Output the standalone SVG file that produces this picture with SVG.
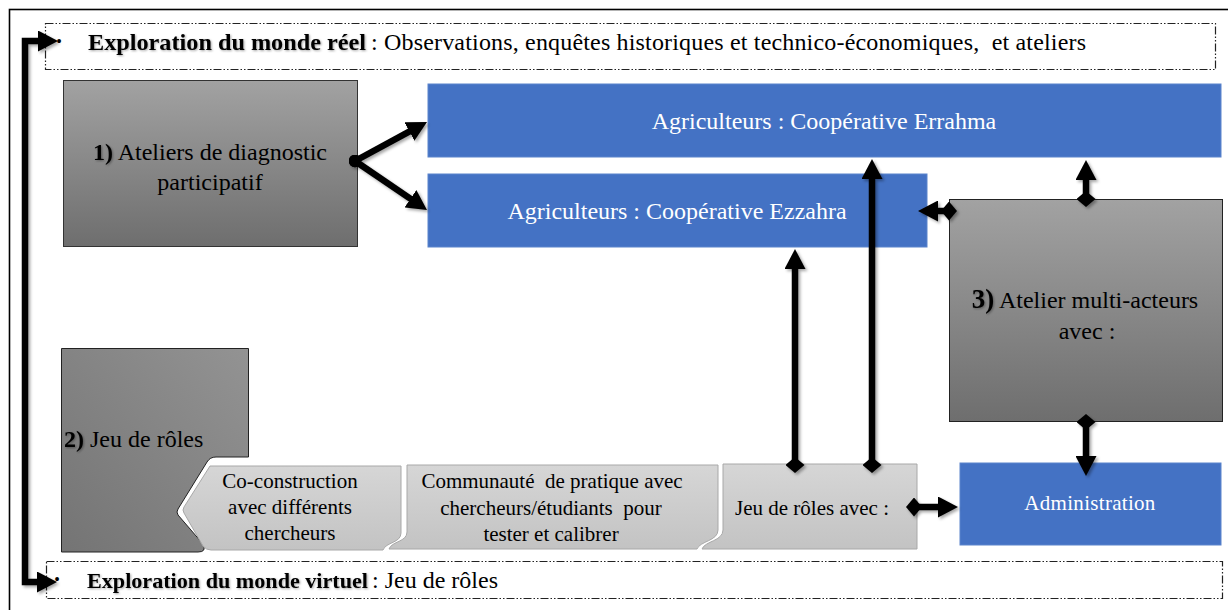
<svg xmlns="http://www.w3.org/2000/svg" width="1228" height="610" viewBox="0 0 1228 610">
<style>
.t{font-family:"Liberation Serif","Times New Roman",serif;fill:#000}
.b{font-weight:bold}
.w{fill:#fff}
.blue{fill:#4472C4;stroke:#5b84cc;stroke-width:1}
.dash{fill:#fff;stroke:#222;stroke-width:1.2;stroke-dasharray:8 2 1.5 2 1.5 2}
.lt{stroke:#a8a8a8;stroke-width:1}
.con{fill:none;stroke:#000;stroke-width:6.5}
</style>
<defs>
<linearGradient id="gDark" x1="0" y1="0" x2="0" y2="1"><stop offset="0" stop-color="#a2a2a2"/><stop offset="1" stop-color="#6e6e6e"/></linearGradient>
<linearGradient id="gMid" x1="0" y1="1" x2="1" y2="0"><stop offset="0" stop-color="#747474"/><stop offset="1" stop-color="#939393"/></linearGradient>
<linearGradient id="gLight" x1="0" y1="0" x2="0" y2="1"><stop offset="0" stop-color="#d6d6d6"/><stop offset="1" stop-color="#c3c3c3"/></linearGradient>
<filter id="sh" x="-10%" y="-10%" width="130%" height="130%"><feDropShadow dx="2" dy="2" stdDeviation="1.5" flood-color="#000" flood-opacity="0.35"/></filter>
<filter id="tsh" x="-5%" y="-20%" width="110%" height="150%"><feDropShadow dx="1" dy="1" stdDeviation="1" flood-color="#000" flood-opacity="0.35"/></filter>
<marker id="ah" viewBox="0 0 20 21" refX="6" refY="10.5" markerWidth="20" markerHeight="21" markerUnits="userSpaceOnUse" orient="auto-start-reverse"><path d="M0,0 L20,10.5 L0,21 Z" fill="#000"/></marker>
<marker id="dm" viewBox="0 0 16 19" refX="8" refY="9.5" markerWidth="16" markerHeight="19" markerUnits="userSpaceOnUse" orient="auto"><path d="M0,9.5 L8,0 L16,9.5 L8,19 Z" fill="#000"/></marker>
<marker id="dot" viewBox="0 0 13 13" refX="6.5" refY="6.5" markerWidth="13" markerHeight="13" markerUnits="userSpaceOnUse"><circle cx="6.5" cy="6.5" r="6.2" fill="#000"/></marker>
</defs>
<rect width="1228" height="610" fill="#fff"/>
<g id="frame"><rect x="9.5" y="9.5" width="1240" height="640" fill="none" stroke="#000" stroke-width="1.6"/></g>

<g id="real-world">
<rect class="dash" x="45.5" y="23.5" width="1170" height="46"/>
<text class="t" x="59" y="47" font-size="16" text-anchor="middle">•</text>
<text class="t b" x="88" y="50" font-size="24" textLength="278" lengthAdjust="spacingAndGlyphs" filter="url(#tsh)">Exploration du monde réel</text>
<text class="t" x="371" y="50" font-size="24" textLength="715" style="white-space:pre">: Observations, enquêtes historiques et technico-économiques,  et ateliers</text>
</g>

<g id="virtual-world">
<rect class="dash" x="46.5" y="561.5" width="1176" height="37"/>
<text class="t" x="57" y="585" font-size="16" text-anchor="middle">•</text>
<text class="t b" x="87" y="588" font-size="22" textLength="281" lengthAdjust="spacingAndGlyphs" filter="url(#tsh)">Exploration du monde virtuel</text>
<text class="t" x="372" y="588" font-size="24" style="white-space:pre">: Jeu de rôles</text>
</g>

<g id="node-1">
<rect x="63.5" y="80.5" width="294" height="166" fill="url(#gDark)" stroke="#333" stroke-width="1"/>
<text class="t" x="210" y="160" font-size="24" text-anchor="middle"><tspan class="b" filter="url(#tsh)">1)</tspan> Ateliers de diagnostic</text>
<text class="t" x="210" y="190" font-size="24" text-anchor="middle">participatif</text>
</g>

<g id="node-errahma">
<rect class="blue" x="428" y="84" width="793" height="73"/>
<text class="t w" x="824" y="129" font-size="24" text-anchor="middle">Agriculteurs : Coopérative Errahma</text>
</g>

<g id="node-ezzahra">
<rect class="blue" x="428" y="174" width="499" height="73"/>
<text class="t w" x="677" y="219" font-size="24" text-anchor="middle">Agriculteurs : Coopérative Ezzahra</text>
</g>

<g id="node-3">
<rect x="949.5" y="199.5" width="273" height="222" fill="url(#gDark)" stroke="#222" stroke-width="1"/>
<text class="t" x="1085" y="308" font-size="24" text-anchor="middle"><tspan class="b" font-size="27" filter="url(#tsh)">3)</tspan> Atelier multi-acteurs</text>
<text class="t" x="1087" y="339" font-size="24" text-anchor="middle">avec :</text>
</g>

<g id="node-admin">
<rect class="blue" x="960" y="463" width="261" height="82"/>
<text class="t w" x="1090" y="510" font-size="21" text-anchor="middle" letter-spacing="0.3">Administration</text>
</g>

<g id="node-2">
<path d="M61.5,348.5 H248.5 V457 H216 Q210,457 207,462 L178,509 Q176,512 178,515 L203,544 Q207,552 198,552 H61.5 Z" fill="url(#gMid)" stroke="#222" stroke-width="1"/>
<text class="t" x="64" y="447" font-size="24"><tspan class="b" filter="url(#tsh)">2)</tspan> Jeu de rôles</text>
</g>

<g id="node-coconstruction">
<path class="lt" d="M210,466 H401 V533 C401,543 386,542 383,550 H211 Q206,550 203,546 L184,513 Q182,510 184,507 Z" fill="url(#gLight)"/>
<text class="t" x="290" y="488" font-size="21" text-anchor="middle">Co-construction</text>
<text class="t" x="290" y="514" font-size="21" text-anchor="middle">avec différents</text>
<text class="t" x="290" y="540" font-size="21" text-anchor="middle">chercheurs</text>
</g>

<g id="node-communaute">
<path class="lt" d="M407,465 H718 V530 C718,541 700,541 697,549 H389 C392,541 407,542 407,532 Z" fill="url(#gLight)"/>
<text class="t" x="552" y="488" font-size="21" text-anchor="middle" style="white-space:pre">Communauté  de pratique avec</text>
<text class="t" x="551" y="515" font-size="21" text-anchor="middle" style="white-space:pre">chercheurs/étudiants  pour</text>
<text class="t" x="551" y="541" font-size="21" text-anchor="middle">tester et calibrer</text>
</g>

<g id="node-jeu">
<path class="lt" d="M723,464 H917 V549 H702 C705,541 723,541 723,530 Z" fill="url(#gLight)"/>
<text class="t" x="812" y="515" font-size="21" text-anchor="middle">Jeu de rôles avec :</text>
</g>

<g id="connectors" filter="url(#sh)">
<path class="con" stroke-width="6" d="M44,41 H25 V582 H43" marker-start="url(#ah)" marker-end="url(#ah)"/>
<path class="con" d="M355,161 L414.7,128.7" marker-start="url(#dot)" marker-end="url(#ah)"/>
<path class="con" d="M355,161 L415.4,202.1" marker-start="url(#dot)" marker-end="url(#ah)"/>
<path class="con" d="M795,465 V263" marker-start="url(#dm)" marker-end="url(#ah)"/>
<path class="con" d="M872,465 V173" marker-start="url(#dm)" marker-end="url(#ah)"/>
<path class="con" d="M949,211 H932" marker-start="url(#dm)" marker-end="url(#ah)"/>
<path class="con" d="M1086,199 V174" marker-start="url(#dm)" marker-end="url(#ah)"/>
<path class="con" d="M1086,422 V462" marker-start="url(#dm)" marker-end="url(#ah)"/>
<path class="con" d="M914,507 H944" marker-start="url(#dm)" marker-end="url(#ah)"/>
</g>
</svg>
